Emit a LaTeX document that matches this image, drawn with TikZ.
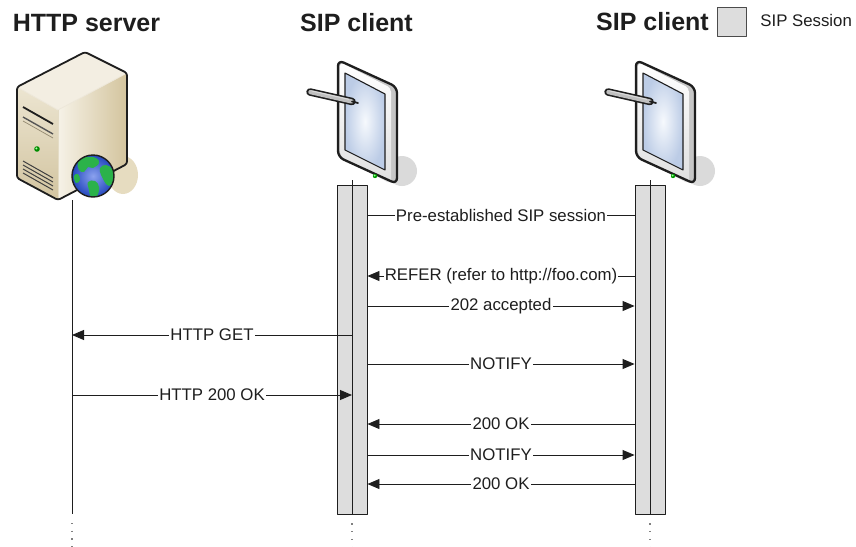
\documentclass[tikz,border=0pt]{standalone}
\usepackage{fontspec}
\setmainfont{Liberation Sans}
\usetikzlibrary{arrows.meta}

\definecolor{ink}{HTML}{1E1E1E}
\definecolor{boxgray}{HTML}{DDDDDD}
\definecolor{srvshadow}{HTML}{E6DCC0}
\definecolor{srvtop}{HTML}{F3EEE2}
\definecolor{srvleftA}{HTML}{ECE5D1}
\definecolor{srvleftB}{HTML}{D2C4A0}
\definecolor{srvrightA}{HTML}{F6F2E7}
\definecolor{srvrightB}{HTML}{D3C49D}
\definecolor{globeblue}{HTML}{2B55E0}
\definecolor{globegreen}{HTML}{2BB24A}
\definecolor{tabshadow}{HTML}{DADADA}
\definecolor{screenin}{HTML}{F6F9FD}
\definecolor{screenout}{HTML}{BCCCE6}

\tikzset{
  msg/.style={draw=ink, line width=0.9pt},
  arr/.style={msg, -{Triangle[length=12pt,width=10pt]}},
  lbl/.style={fill=white, inner sep=1.2pt, text=ink, font=\fontsize{16.8}{20}\selectfont},
  headtext/.style={anchor=base, text=ink, font=\fontsize{25}{30}\selectfont\bfseries},
  actbox/.style={draw=ink, fill=boxgray, line width=0.9pt, minimum width=30pt,
                 minimum height=329pt, inner sep=0pt},
  dots/.style={draw=gray, line width=1.2pt, dash pattern=on 1.2pt off 6.5pt},
  % handheld client with stylus; origin on the lifeline axis
  tablet/.pic={
    \fill[tabshadow] (50,171) ellipse [x radius=15, y radius=15];
    \fill[gray!45, rounded corners=6pt] (-14,60) -- (45,87) -- (45,184) -- (-14,157) -- cycle;
    \shade[top color=white, bottom color=gray!25, rounded corners=4pt]
      (-12,62) -- (39,88) -- (39,184) -- (-12,156) -- cycle;
    \draw[ink, line width=2.3pt, rounded corners=6pt]
      (-14,60) -- (45,87) -- (45,184) -- (-14,157) -- cycle;
    \shade[inner color=screenin, outer color=screenout]
      (-7,73) -- (33,94) -- (33,170) -- (-7,150) -- cycle;
    \draw[ink, line width=1.1pt] (-7,73) -- (33,94) -- (33,170) -- (-7,150) -- cycle;
    \fill[green!60!black] (23,176) circle (2.2);
    \fill[green!40] (22.6,175.6) circle (1);
    \draw[ink, line width=7.5pt, line cap=round] (-42,92) -- (0,101.5);
    \draw[gray!50, line width=4.3pt, line cap=round] (-41.6,92.1) -- (-0.5,101.4);
    \draw[white!70!gray, line width=1pt] (-40,91) -- (-3,99.4);
    \draw[ink, line width=1.8pt, line cap=round] (0,101.5) -- (6,103);
  }
}

\begin{document}
\begin{tikzpicture}[x=1pt, y=-1pt, line join=round]
\useasboundingbox (0,0) rectangle (856,546);

% ---------- headings and legend ----------
\node[headtext] (hdSrv) at (86.5,31) {HTTP server};
\node[headtext] (hdA) at (356.5,31) {SIP client};
\node[headtext] (hdB) at (652.5,30) {SIP client};
\node[draw=ink!80, fill=boxgray, line width=0.9pt, minimum size=29pt, inner sep=0pt]
  (legbox) at (732,21.5) {};
\node[lbl, fill=none, anchor=base west] (legtxt) at (759,27) {SIP Session};

% ---------- web server tower ----------
\fill[srvshadow] (123,175) ellipse [x radius=15, y radius=19];
\shade[top color=srvleftA, bottom color=srvleftB] (17,87) -- (58,110) -- (58,200) -- (17,178) -- cycle;
\shade[left color=srvrightA, right color=srvrightB] (58,110) -- (127,73) -- (127,164) -- (58,200) -- cycle;
\fill[srvtop] (17,87) -- (85,52) -- (127,73) -- (58,110) -- cycle;
\draw[white!60!srvleftB, line width=0.8pt] (17,87) -- (58,110) -- (127,73);
\draw[white!40!srvleftB, line width=0.6pt] (58,110) -- (58,200);
\draw[ink, line width=1.8pt, rounded corners=2.5pt]
  (17,87) -- (85,52) -- (127,73) -- (127,164) -- (58,200) -- (17,178) -- cycle;
% drive bay
\draw[ink, line width=1.8pt] (23,107) -- (53,124);
\draw[ink!75, line width=1.4pt] (23,117) -- (53,134);
\draw[srvleftB!70!black, line width=0.7pt] (23,121) -- (53,138);
% power lamp
\fill[green!55!black] (37,149) circle (2.8);
\fill[green!35] (36.4,148.4) circle (1.1);
% vents
\foreach \d in {0,4,8,12}
  \draw[ink!85, line width=1pt] (23,161+\d) -- (53,178+\d);
% globe
\shade[inner color=globeblue!55!white, outer color=globeblue!85!black] (93,176) circle (21);
\begin{scope}
  \clip (93,176) circle (21);
  \fill[globegreen] plot[smooth cycle, tension=0.7]
    coordinates {(78,162) (86,157) (96,158) (99,163) (93,168) (88,167) (84,172) (79,170)};
  \fill[globegreen] plot[smooth cycle, tension=0.7]
    coordinates {(100,168) (106,165) (113,170) (114,180) (109,186) (104,181) (101,175)};
  \fill[globegreen] plot[smooth cycle, tension=0.7]
    coordinates {(88,182) (95,181) (99,187) (97,196) (91,197) (89,190)};
  \fill[globegreen] plot[smooth cycle, tension=0.7]
    coordinates {(74,176) (78,174) (80,180) (76,183)};
\end{scope}
\draw[ink, line width=1.4pt] (93,176) circle (21);

% ---------- handheld clients ----------
\pic at (352,0) {tablet};
\pic at (650,0) {tablet};

% ---------- lifelines ----------
\coordinate (srvTop) at (72,200);
\coordinate (srvBot) at (72,514);
\coordinate (tabA) at (352,180);
\coordinate (tabB) at (650,180);

\node[actbox] (actA) at (352,349.5) {};
\node[actbox] (actB) at (650,349.5) {};

\draw[msg] (srvTop) -- (srvBot);
\draw[msg] (tabA) -- (actA.south);
\draw[msg] (tabB) -- (actB.south);

\draw[dots] ([yshift=-9pt]srvBot) -- ([yshift=-34pt]srvBot);
\draw[dots] ([yshift=-9pt]actA.south) -- ([yshift=-34pt]actA.south);
\draw[dots] ([yshift=-9pt]actB.south) -- ([yshift=-34pt]actB.south);

% ---------- message rows ----------
\coordinate (m1) at (0,215);
\coordinate (m2) at (0,276);
\coordinate (m3) at (0,306);
\coordinate (m4) at (0,335);
\coordinate (m5) at (0,364);
\coordinate (m6) at (0,395);
\coordinate (m7) at (0,424);
\coordinate (m8) at (0,455);
\coordinate (m9) at (0,484);

\draw[msg] (actA.east |- m1) -- node[lbl] {Pre-established SIP session} (actB.west |- m1);
\draw[arr] (actB.west |- m2) -- node[lbl] {REFER (refer to http://foo.com)} (actA.east |- m2);
\draw[arr] (actA.east |- m3) -- node[lbl] {202 accepted} (actB.west |- m3);
\draw[arr] (actA.center |- m4) -- node[lbl] {HTTP GET} (srvTop |- m4);
\draw[arr] (actA.east |- m5) -- node[lbl] {NOTIFY} (actB.west |- m5);
\draw[arr] (srvTop |- m6) -- node[lbl] {HTTP 200 OK} (actA.center |- m6);
\draw[arr] (actB.west |- m7) -- node[lbl] {200 OK} (actA.east |- m7);
\draw[arr] (actA.east |- m8) -- node[lbl] {NOTIFY} (actB.west |- m8);
\draw[arr] (actB.west |- m9) -- node[lbl] {200 OK} (actA.east |- m9);

\end{tikzpicture}
\end{document}
